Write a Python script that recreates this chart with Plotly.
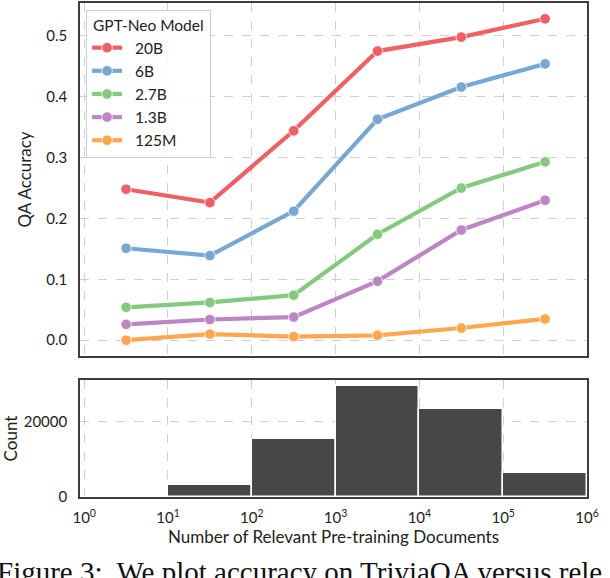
import numpy as np
import plotly.graph_objects as go
from plotly.subplots import make_subplots

# ---- data ----
bin_edge_exponents = [0, 1, 2, 3, 4, 5, 6]          # bins of relevant docs: 10^k .. 10^(k+1)
model_names = ["20B", "6B", "2.7B", "1.3B", "125M"]
acc_20b = [0.248, 0.226, 0.344, 0.475, 0.498, 0.528]
acc_6b = [0.151, 0.139, 0.212, 0.363, 0.416, 0.454]
acc_2_7b = [0.054, 0.062, 0.074, 0.174, 0.250, 0.293]
acc_1_3b = [0.026, 0.034, 0.038, 0.097, 0.181, 0.230]
acc_125m = [0.000, 0.010, 0.006, 0.008, 0.020, 0.035]
counts = [0, 3100, 15400, 29500, 23400, 6300]
x_tick_labels = ["10<sup>0</sup>", "10<sup>1</sup>", "10<sup>2</sup>", "10<sup>3</sup>",
                 "10<sup>4</sup>", "10<sup>5</sup>", "10<sup>6</sup>"]
caption = "Figure 3:  We plot accuracy on TriviaQA versus rele"

colors = ["#EE6064", "#76A8D3", "#85C981", "#BB86C3", "#FFA650"]
accs = [acc_20b, acc_6b, acc_2_7b, acc_1_3b, acc_125m]

edges = np.array(bin_edge_exponents, dtype=float)
centers = (edges[:-1] + edges[1:]) / 2.0   # geometric bin midpoints in log10 space
widths = edges[1:] - edges[:-1]

FONT = "Lato"
AX = "#3d3d3d"
GRID = "#cfcfcf"
PAD = "\u00a0\u00a0"

fig = make_subplots(rows=2, cols=1, shared_xaxes=False, vertical_spacing=0.0)

for name, col, acc in zip(model_names, colors, accs):
    fig.add_trace(go.Scatter(
        x=centers, y=acc, mode="lines+markers", name=PAD + name + PAD,
        legendgroup=name,
        line=dict(color=col, width=4.2),
        marker=dict(color=col, size=10.5, line=dict(color="rgba(255,255,255,0.75)", width=1)),
    ), row=1, col=1)

fig.add_trace(go.Bar(
    x=centers, y=counts, width=widths, marker=dict(color="#474747", line=dict(color="white", width=1.5)),
    showlegend=False,
), row=2, col=1)

axis_common = dict(showline=True, linecolor=AX, linewidth=1.6, mirror=True, automargin=False,
                   gridcolor=GRID, griddash="dash", gridwidth=1, zeroline=False, ticks="",
                   tickfont=dict(family=FONT, size=15, color="#222"))

fig.update_layout(
    width=610, height=578,
    margin=dict(l=80, r=23, t=3, b=81),
    paper_bgcolor="white", plot_bgcolor="white",
    font=dict(family=FONT, size=15, color="#222"),
    legend=dict(
        x=0.012, y=0.986, xanchor="left", yanchor="top",
        bgcolor="rgba(255,255,255,0.85)", bordercolor="#cccccc", borderwidth=1,
        title=dict(text=PAD[:1] + "GPT-Neo Model" + PAD[:1], font=dict(family=FONT, size=15.5)),
        font=dict(family=FONT, size=15.5), tracegroupgap=0,
    ),
    bargap=0,
    showlegend=True,
)

fig.update_xaxes(axis_common)
fig.update_yaxes(axis_common)

fig.update_xaxes(row=1, col=1, range=[-0.05, 6.0], tickvals=edges[:-1].tolist(),
                 showticklabels=False, domain=[0, 1])
fig.update_xaxes(row=2, col=1, range=[-0.05, 6.0], tickvals=edges.tolist(), ticktext=x_tick_labels,
                 ticklabelstandoff=6,
                 title=dict(text="Number of Relevant Pre-training Documents",
                            font=dict(family=FONT, size=17), standoff=4))
fig.update_yaxes(row=1, col=1, range=[-0.026, 0.554], tick0=0, dtick=0.1, tickformat=".1f",
                 domain=[0.2854, 1], ticklabelstandoff=8,
                 title=dict(text="QA Accuracy", font=dict(family=FONT, size=17), standoff=10))
fig.update_yaxes(row=2, col=1, range=[0, 30975], tickvals=[0, 20000], ticktext=["0", "20000"],
                 domain=[0, 0.2368], ticklabelstandoff=8,
                 title=dict(text="Count", font=dict(family=FONT, size=17), standoff=6))

fig.add_annotation(text=caption, xref="paper", yref="paper", x=-0.168, y=-0.116,
                   xanchor="left", yanchor="top", showarrow=False,
                   font=dict(family="Liberation Serif", size=29, color="#111"))

fig.write_html("out.html", post_script="document.body.style.margin='0';",
               config={"displayModeBar": False})
